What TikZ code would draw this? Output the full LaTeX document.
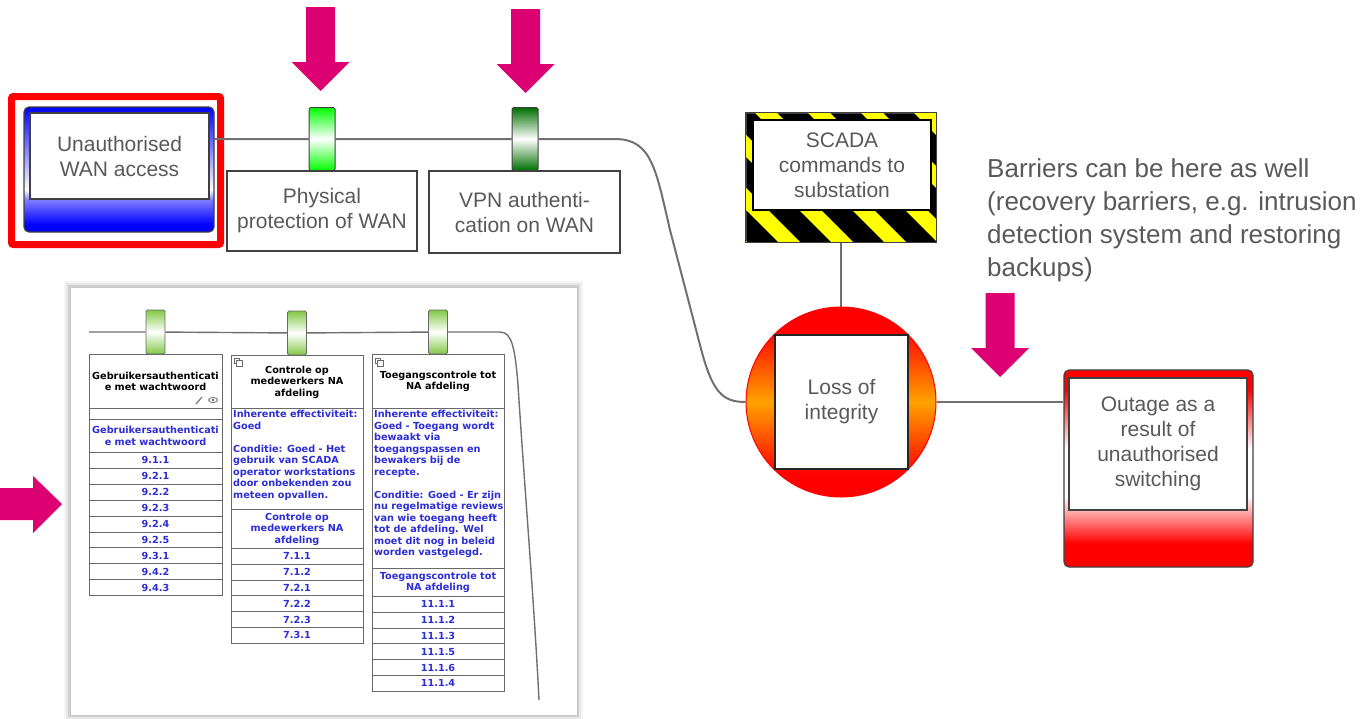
\documentclass[tikz,border=0pt]{standalone}
\usepackage{fontspec}
\setmainfont{Liberation Sans}
\newfontfamily\panelfont{DejaVu Sans}

\pgfdeclarelayer{back}
\pgfdeclarelayer{mid}
\pgfsetlayers{back,mid,main}

\definecolor{txtgray}{RGB}{89,89,89}
\definecolor{edgegray}{RGB}{64,64,64}
\definecolor{conngray}{RGB}{112,112,112}
\definecolor{arrowpink}{RGB}{220,0,115}
\definecolor{hazyellow}{RGB}{255,255,0}
\definecolor{threatblue}{RGB}{0,0,255}
\definecolor{threatlight}{RGB}{128,128,255}
\definecolor{topred}{RGB}{255,0,0}
\definecolor{toporange}{RGB}{255,162,0}
\definecolor{barrierlight}{RGB}{0,255,0}
\definecolor{barrierdark}{RGB}{0,110,0}
\definecolor{panelgreen}{RGB}{130,200,70}
\definecolor{panelblue}{RGB}{45,45,215}
\definecolor{cellgray}{RGB}{105,105,105}
\definecolor{panelframe}{RGB}{200,200,200}

% vertical colour bands (the path fills the 25bp--75bp part)
\pgfdeclareverticalshading{threatband}{100bp}{color(0bp)=(threatblue); color(28bp)=(threatblue); color(38bp)=(threatlight); color(42bp)=(white); color(75bp)=(threatblue); color(100bp)=(threatblue)}
\pgfdeclareverticalshading{consequenceband}{100bp}{color(0bp)=(topred); color(31bp)=(topred); color(43bp)=(white); color(55bp)=(white); color(70bp)=(topred); color(100bp)=(topred)}
\pgfdeclareverticalshading{eventband}{100bp}{color(0bp)=(topred); color(31bp)=(topred); color(50bp)=(toporange); color(69bp)=(topred); color(100bp)=(topred)}

\begin{document}
\begin{tikzpicture}[x=1pt, y=-1pt,
  boxtext/.style={font=\fontsize{21}{25}\selectfont, text=txtgray, align=center},
  labelbox/.style={boxtext, rectangle, draw=edgegray, line width=1.2pt, fill=white, inner sep=0pt},
  conn/.style={draw=conngray, line width=2pt},
  barrier/.style={rectangle, draw=edgegray, line width=1pt, rounded corners=1.5pt, minimum width=26pt, minimum height=63pt, inner sep=0pt, top color=#1, bottom color=#1, middle color=white},
  panelbarrier/.style={rectangle, draw=cellgray, line width=0.8pt, rounded corners=1.5pt, minimum width=19pt, minimum height=44pt, inner sep=0pt, top color=panelgreen, bottom color=panelgreen, middle color=white},
  panelconn/.style={draw=conngray, line width=1.4pt},
  cell/.style={rectangle, draw=cellgray, line width=0.9pt, fill=white, inner sep=0pt, anchor=north, align=center, text=panelblue, font=\panelfont\bfseries\fontsize{9.7}{11.5}\selectfont},
  headcell/.style={cell, text=black},
  desc/.style={anchor=north west, inner sep=0pt, align=left, text=panelblue, font=\panelfont\bfseries\fontsize{9.7}{11.5}\selectfont},
  pinkdown/.pic={\fill[arrowpink] (-14.5,0) -- (14.5,0) -- (14.5,55) -- (29,55) -- (0,84) -- (-29,55) -- (-14.5,55) -- cycle;}
]
\useasboundingbox (0,0) rectangle (1365,718);

% ---------- threat ----------
\node[rectangle, shade, shading=threatband, draw=edgegray, line width=1.2pt, rounded corners=5pt,
      minimum width=190pt, minimum height=125pt, inner sep=0pt] (threat) at (119,169.5) {};
\node[labelbox, minimum width=179pt, minimum height=86pt] (threatbox) at (119.5,156) {Unauthorised\\WAN access};
\begin{pgfonlayer}{back}
  \node[rectangle, draw=topred, line width=7pt, rounded corners=2pt,
        minimum width=209pt, minimum height=148pt, inner sep=0pt] (threatframe) at (116,170.5) {};
\end{pgfonlayer}

% ---------- barriers ----------
\node[barrier=barrierlight] (b1) at (322,139) {};
\node[barrier=barrierdark] (b2) at (525,139) {};
\node[labelbox, minimum width=190pt, minimum height=80pt] (b1label) at (322,211) {Physical\\protection of WAN};
\node[labelbox, minimum width=191pt, minimum height=82pt] (b2label) at (524.5,212) {VPN authenti-\\cation on WAN};

\pic at (320.5,7) {pinkdown};
\pic at (525.5,9) {pinkdown};
\pic at (1000,293) {pinkdown};

% ---------- hazard ----------
\node[rectangle, draw=edgegray, line width=0.8pt, fill=black, minimum width=190pt, minimum height=129pt, inner sep=0pt] (scada) at (841,177.5) {};
\begin{scope}
  \clip (scada.north west) rectangle (scada.south east);
  \foreach \k in {-4,...,4}
    \fill[hazyellow] ({755+53*\k},113) -- ++(22,0) -- ++(140,140) -- ++(-22,0) -- cycle;
\end{scope}
\draw[edgegray, line width=0.8pt] (scada.north west) rectangle (scada.south east);
\node[labelbox, draw=black, minimum width=178pt, minimum height=90pt] (scadabox) at (842,165) {SCADA\\commands to\\substation};

% ---------- top event ----------
\node[circle, shade, shading=eventband, draw=topred, line width=1pt, minimum size=190pt, inner sep=0pt] (top) at (841,402) {};
\node[labelbox, draw=black!85, minimum width=133pt, minimum height=134pt] (topbox) at (841.5,402) {Loss of\\integrity};

% ---------- consequence ----------
\node[rectangle, shade, shading=consequenceband, draw=edgegray, line width=1.2pt, rounded corners=5pt,
      minimum width=189pt, minimum height=197pt, inner sep=0pt] (outage) at (1158.5,468.5) {};
\node[labelbox, minimum width=178pt, minimum height=132pt] (outbox) at (1158,444) {Outage as a\\result of\\unauthorised\\switching};

% ---------- note ----------
\node[anchor=north west, inner sep=0pt, align=left, text=txtgray, font=\fontsize{26}{33}\selectfont] (note) at (987,158)
  {Barriers can be here as well\\(recovery barriers, e.g. intrusion\\detection system and restoring\\backups)};

% ---------- main connectors ----------
\coordinate (bend) at (615,139);
\begin{pgfonlayer}{mid}
  \draw[conn] (threat.east |- b1.center) -- (b1) -- (b2) -- (bend)
    .. controls (652,139) and (656,170) .. (670,230) -- (700,345)
    .. controls (712,392) and (722,402) .. (top.west);
  \draw[conn] (scada.south) -- (top.north);
  \draw[conn] (top.east) -- (top.east -| outage.west);
\end{pgfonlayer}

% ---------- control panel ----------
\begin{pgfonlayer}{back}
  \foreach \w/\o in {12/0.04,8/0.06,4/0.10}
    \draw[black, opacity=\o, line width=\w pt] (70,287) rectangle (577,715);
  \draw[draw=panelframe, fill=white, line width=1pt] (70,287) rectangle (577,715);
\end{pgfonlayer}

\node[panelbarrier] (pb1) at (155.5,332) {};
\node[panelbarrier] (pb2) at (297,333) {};
\node[panelbarrier] (pb3) at (438,332) {};
\coordinate (pl0) at (89,332);
\coordinate (plbend) at (500,332);
\coordinate (pl1) at (539,700);
\begin{pgfonlayer}{mid}
  \draw[panelconn] (pl0) -- (pb1) -- (pb2) -- (pb3) -- (plbend)
    .. controls (512,332) and (515,348) .. (518,385)
    .. controls (524,480) and (534,600) .. (pl1);
\end{pgfonlayer}

% column 1
\node[headcell, minimum width=133pt, minimum height=54pt] (c1h) at (155.5,354) {Gebruikersauthenticati\\e met wachtwoord};
\node[cell, minimum width=133pt, minimum height=11pt] (c1e) at (155.5,408) {};
\node[cell, minimum width=133pt, minimum height=33pt] (c1t) at (155.5,419) {Gebruikersauthenticati\\e met wachtwoord};
\foreach \t [count=\i from 0] in {9.1.1,9.2.1,9.2.2,9.2.3,9.2.4,9.2.5,9.3.1,9.4.2,9.4.3}
  \node[cell, minimum width=133pt, minimum height=15.9pt] (c1r\i) at (155.5,{452+15.9*\i}) {\t};
\draw[gray, line width=1.3pt, line cap=round] (196,404) -- (202,397);
\draw[gray!80!black, line width=0.8pt] (213,400) ellipse (4.5pt and 2.5pt);
\fill[gray!80!black] (213,400) circle (1.4pt);

% column 2
\node[headcell, minimum width=132pt, minimum height=53pt] (c2h) at (297,355) {Controle op\\medewerkers NA\\afdeling};
\node[cell, minimum width=132pt, minimum height=101pt] (c2d) at (297,408) {};
\node[desc] (c2dt) at (233,410) {Inherente effectiviteit:\\Goed\\[11.5pt]Conditie: Goed - Het\\gebruik van SCADA\\operator workstations\\door onbekenden zou\\meteen opvallen.};
\node[cell, minimum width=132pt, minimum height=39pt] (c2t) at (297,509) {Controle op\\medewerkers NA\\afdeling};
\foreach \t [count=\i from 0] in {7.1.1,7.1.2,7.2.1,7.2.2,7.2.3,7.3.1}
  \node[cell, minimum width=132pt, minimum height=15.8pt] (c2r\i) at (297,{548+15.8*\i}) {\t};
\draw[cellgray, line width=0.6pt, fill=white] (234,358) rectangle (239.5,363.5);
\draw[cellgray, line width=0.6pt, fill=white] (236.5,360.5) rectangle (242,366);

% column 3
\node[headcell, minimum width=132pt, minimum height=54pt] (c3h) at (438,354) {Toegangscontrole tot\\NA afdeling};
\node[cell, minimum width=132pt, minimum height=160pt] (c3d) at (438,408) {};
\node[desc] (c3dt) at (374,410) {Inherente effectiviteit:\\Goed - Toegang wordt\\bewaakt via\\toegangspassen en\\bewakers bij de\\recepte.\\[11.5pt]Conditie: Goed - Er zijn\\nu regelmatige reviews\\van wie toegang heeft\\tot de afdeling. Wel\\moet dit nog in beleid\\worden vastgelegd.};
\node[cell, minimum width=132pt, minimum height=28pt] (c3t) at (438,568) {Toegangscontrole tot\\NA afdeling};
\foreach \t [count=\i from 0] in {11.1.1,11.1.2,11.1.3,11.1.5,11.1.6,11.1.4}
  \node[cell, minimum width=132pt, minimum height=15.8pt] (c3r\i) at (438,{596+15.8*\i}) {\t};
\draw[cellgray, line width=0.6pt, fill=white] (375,358) rectangle (380.5,363.5);
\draw[cellgray, line width=0.6pt, fill=white] (377.5,360.5) rectangle (383,366);

% pointer towards the panel
\fill[arrowpink] (0,488) -- (33,488) -- (33,476) -- (62,504) -- (33,533) -- (33,520) -- (0,520) -- cycle;
\end{tikzpicture}
\end{document}
